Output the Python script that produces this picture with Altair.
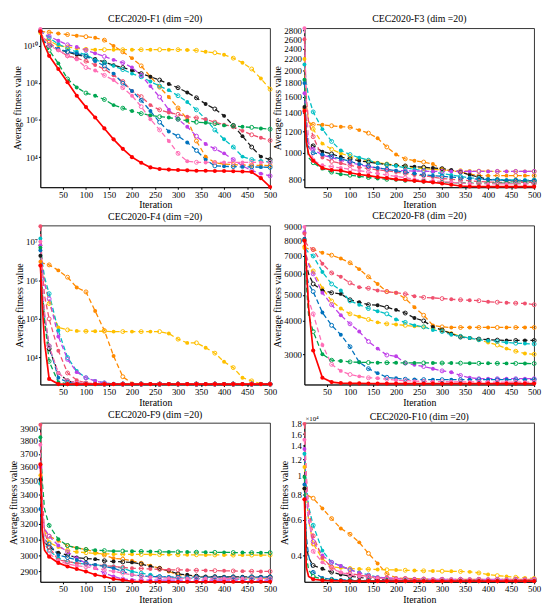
import altair as alt
import pandas as pd

IT = [1, 5, 10, 20, 40, 60, 80, 100, 120, 140, 160, 180, 200, 220, 240, 260,
      280, 300, 320, 340, 360, 380, 400, 420, 440, 460, 480, 500]
MARK_IT = [1, 20, 40, 60, 80, 100, 120, 140, 160, 180, 200, 220, 240, 260,
           280, 300, 320, 340, 360, 380, 400, 420, 440, 460, 480, 500]

SERIES = ["Orange", "Yellow", "Black", "Cyan", "Purple", "Salmon", "Blue", "Green", "Pink", "Red"]
COLORS = ["#FF8A00", "#FFC000", "#1A1A1A", "#00BFC4", "#BF3FE8", "#F0506E", "#0072BD", "#00A651", "#FF6FB7", "#FF0000"]

F1 = {
    "Red": [5.8e10, 2.5e10, 1.0e10, 2.8e9, 5.5e8, 1.07e8, 2.0e7, 4.9e6, 1.35e6, 3.5e5, 9.1e4, 2.8e4, 1.0e4, 5.0e3,
            2.8e3, 2.3e3, 2.15e3, 2.05e3, 1.95e3, 1.85e3, 1.85e3, 1.8e3, 1.8e3, 1.75e3, 1.7e3, 1.6e3, 7.4e2, 2.5e2],
    "Orange": [6.2e10, 5.8e10, 5.5e10, 5.2e10, 4.4e10, 3.9e10, 3.4e10, 3.0e10, 2.6e10, 1.95e10, 9.5e9, 4.6e9, 2.1e9, 8.1e8,
               2.1e8, 5.8e7, 1.7e7, 4.4e6, 1.1e6, 7.4e4, 1.07e4, 5.0e3, 4.2e3, 4.0e3, 3.8e3, 3.7e3, 3.6e3, 3.5e3],
    "Yellow": [4.7e10, 3.2e10, 2.5e10, 1.8e10, 1.0e10, 8.3e9, 7.1e9, 6.3e9, 6.0e9, 6.0e9, 6.0e9, 6.0e9, 6.0e9, 6.0e9,
               6.0e9, 6.0e9, 6.0e9, 6.0e9, 5.8e9, 5.5e9, 4.6e9, 4.1e9, 3.2e9, 2.1e9, 1.2e9, 5.5e8, 1.7e8, 4.5e7],
    "Black": [5.8e10, 2.5e10, 1.6e10, 1.0e10, 6.0e9, 4.6e9, 3.2e9, 2.6e9, 1.9e9, 1.3e9, 8.7e8, 6.6e8, 4.6e8, 3.1e8,
              2.1e8, 1.4e8, 8.5e7, 5.4e7, 3.0e7, 1.55e7, 7.2e6, 3.9e6, 1.66e6, 5.1e5, 1.35e5, 3.5e4, 1.07e4, 7.4e3],
    "Cyan": [6.9e10, 5.0e10, 4.0e10, 2.6e10, 1.2e10, 6.8e9, 4.6e9, 3.2e9, 1.7e9, 1.2e9, 8.1e8, 5.1e8, 3.1e8, 2.1e8,
             1.17e8, 6.6e7, 4.0e7, 2.0e7, 9.3e6, 3.5e6, 1.1e6, 2.9e5, 9.1e4, 3.5e4, 1.07e4, 7.4e3, 6.3e3, 5.4e3],
    "Purple": [6.9e10, 5.0e10, 4.0e10, 3.2e10, 1.8e10, 1.1e10, 8.3e9, 5.6e9, 3.8e9, 2.6e9, 1.7e9, 1.2e9, 6.6e8, 2.5e8,
               6.6e7, 1.7e7, 3.5e6, 1.1e6, 4.3e5, 1.35e5, 5.1e4, 2.8e4, 1.6e4, 7.4e3, 3.4e3, 1.9e3, 1.3e3, 9.8e2],
    "Salmon": [5.8e10, 3.2e10, 2.2e10, 1.5e10, 5.6e9, 2.8e9, 2.1e9, 1.45e9, 9.1e8, 5.5e8, 2.5e8, 1.17e8, 3.6e7, 1.8e7,
               6.3e6, 3.5e6, 2.5e6, 2.0e6, 1.5e6, 1.3e6, 1.1e6, 7.6e5, 5.6e5, 4.3e5, 2.6e5, 1.6e5, 1.1e5, 7.9e4],
    "Pink": [7.9e10, 3.2e10, 2.0e10, 1.0e10, 5.6e9, 2.8e9, 1.8e9, 6.6e8, 4.6e8, 2.5e8, 1.4e8, 5.4e7, 2.0e7, 5.2e6,
             1.1e6, 2.9e5, 7.4e4, 1.6e4, 6.0e3, 5.3e3, 5.2e3, 5.2e3, 5.2e3, 5.2e3, 5.2e3, 5.2e3, 5.2e3, 5.2e3],
    "Blue": [5.8e10, 2.5e10, 1.6e10, 1.0e10, 6.8e9, 4.6e9, 3.8e9, 2.6e9, 1.45e9, 8.1e8, 3.1e8, 9.5e7, 3.6e7, 1.15e7,
             3.0e6, 7.6e5, 2.4e5, 1.35e5, 6.2e4, 2.3e4, 7.4e3, 3.4e3, 3.2e3, 3.1e3, 3.0e3, 3.0e3, 2.9e3, 2.8e3],
    "Green": [5.8e10, 2.0e10, 1.26e10, 5.6e9, 1.1e9, 1.6e8, 5.6e7, 2.8e7, 2.0e7, 1.26e7, 6.3e6, 4.3e6, 3.0e6, 2.2e6,
              1.8e6, 1.5e6, 1.35e6, 1.1e6, 9.1e5, 7.6e5, 7.1e5, 6.3e5, 5.1e5, 4.8e5, 4.3e5, 4.0e5, 3.5e5, 3.2e5],
}

F3 = {
    "Red": [1420, 1100, 990, 935, 880, 865, 860, 845, 833, 825, 815, 808, 800, 795,
            790, 785, 780, 772, 764, 756, 753, 752, 752, 752, 752, 752, 752, 752],
    "Orange": [1450, 1320, 1290, 1270, 1265, 1255, 1245, 1240, 1210, 1180, 1130, 1050, 985, 950,
               935, 925, 910, 870, 860, 850, 835, 825, 825, 825, 825, 825, 825, 825],
    "Yellow": [2200, 1500, 1300, 1220, 1080, 1030, 995, 970, 950, 935, 920, 910, 900, 890,
               880, 875, 870, 865, 860, 860, 858, 857, 856, 855, 855, 855, 855, 855],
    "Black": [1470, 1150, 1090, 1060, 1010, 990, 965, 950, 935, 925, 915, 905, 900, 895,
              890, 885, 880, 875, 865, 850, 830, 815, 800, 795, 790, 790, 790, 790],
    "Cyan": [2100, 1800, 1600, 1410, 1220, 1100, 1020, 985, 960, 940, 915, 905, 895, 880,
             870, 860, 850, 840, 830, 820, 810, 805, 800, 798, 796, 795, 795, 795],
    "Purple": [1650, 1200, 1080, 1030, 980, 960, 940, 920, 905, 890, 880, 870, 860, 860,
               857, 856, 855, 855, 855, 855, 855, 855, 855, 855, 855, 855, 855, 855],
    "Salmon": [2600, 1600, 1300, 1145, 960, 930, 915, 900, 885, 875, 865, 860, 850, 840,
               830, 825, 815, 805, 800, 795, 790, 785, 782, 780, 780, 780, 780, 780],
    "Pink": [2850, 1500, 1100, 940, 900, 890, 880, 870, 860, 850, 840, 830, 820, 810,
             800, 795, 790, 785, 780, 775, 772, 770, 770, 770, 770, 770, 770, 770],
    "Blue": [1800, 1200, 1050, 1000, 985, 970, 950, 930, 910, 895, 880, 870, 860, 850,
             840, 830, 825, 820, 815, 810, 805, 800, 797, 795, 793, 792, 791, 790],
    "Green": [1850, 1100, 960, 920, 875, 850, 835, 828, 820, 812, 805, 800, 797, 793,
              790, 787, 783, 780, 778, 776, 775, 775, 775, 775, 775, 775, 775, 775],
}

F4 = {
    "Red": [2.4e6, 2.4e5, 2.5e4, 2.8e3, 2.06e3, 2.05e3, 2.05e3, 2.05e3, 2.05e3, 2.05e3, 2.05e3, 2.05e3, 2.05e3, 2.05e3,
            2.05e3, 2.05e3, 2.05e3, 2.05e3, 2.05e3, 2.05e3, 2.05e3, 2.05e3, 2.05e3, 2.05e3, 2.05e3, 2.05e3, 2.05e3, 2.05e3],
    "Orange": [3.0e6, 2.8e6, 2.7e6, 2.5e6, 1.8e6, 1.2e6, 6.5e5, 5.0e5, 1.6e5, 5.0e4, 1.1e4, 3.2e3, 2.15e3, 2.1e3,
               2.08e3, 2.07e3, 2.07e3, 2.07e3, 2.07e3, 2.07e3, 2.07e3, 2.07e3, 2.07e3, 2.07e3, 2.07e3, 2.07e3, 2.07e3, 2.07e3],
    "Yellow": [8.0e6, 2.5e6, 1.0e6, 2.5e5, 6.0e4, 5.2e4, 4.9e4, 4.8e4, 4.8e4, 4.8e4, 4.7e4, 4.7e4, 4.7e4, 4.7e4,
               4.7e4, 4.7e4, 4.2e4, 3.0e4, 2.4e4, 2.4e4, 1.8e4, 1.3e4, 7.8e3, 5.5e3, 3.0e3, 2.5e3, 2.1e3, 2.05e3],
    "Black": [4.3e6, 4.0e5, 8.0e4, 1.7e4, 4.0e3, 2.5e3, 2.2e3, 2.1e3, 2.07e3, 2.06e3, 2.06e3, 2.06e3, 2.06e3, 2.06e3,
              2.06e3, 2.06e3, 2.06e3, 2.06e3, 2.06e3, 2.06e3, 2.06e3, 2.06e3, 2.06e3, 2.06e3, 2.06e3, 2.06e3, 2.06e3, 2.06e3],
    "Cyan": [1.2e7, 3.0e6, 1.2e6, 4.5e5, 5.0e4, 1.0e4, 4.5e3, 3.0e3, 2.5e3, 2.2e3, 2.1e3, 2.07e3, 2.06e3, 2.06e3,
             2.06e3, 2.06e3, 2.06e3, 2.06e3, 2.06e3, 2.06e3, 2.06e3, 2.06e3, 2.06e3, 2.06e3, 2.06e3, 2.06e3, 2.06e3, 2.06e3],
    "Purple": [8.0e6, 2.0e6, 8.0e5, 3.3e5, 3.5e4, 9.0e3, 4.2e3, 3.0e3, 2.5e3, 2.2e3, 2.1e3, 2.07e3, 2.06e3, 2.06e3,
               2.06e3, 2.06e3, 2.06e3, 2.06e3, 2.06e3, 2.06e3, 2.06e3, 2.06e3, 2.06e3, 2.06e3, 2.06e3, 2.06e3, 2.06e3, 2.06e3],
    "Salmon": [2.5e7, 2.0e6, 4.0e5, 1.0e5, 1.5e4, 4.0e3, 2.6e3, 2.2e3, 2.1e3, 2.07e3, 2.06e3, 2.06e3, 2.06e3, 2.06e3,
               2.06e3, 2.06e3, 2.06e3, 2.06e3, 2.06e3, 2.06e3, 2.06e3, 2.06e3, 2.06e3, 2.06e3, 2.06e3, 2.06e3, 2.06e3, 2.06e3],
    "Pink": [1.0e7, 1.0e6, 1.5e5, 2.0e4, 4.0e3, 2.5e3, 2.2e3, 2.1e3, 2.07e3, 2.06e3, 2.06e3, 2.06e3, 2.06e3, 2.06e3,
             2.06e3, 2.06e3, 2.06e3, 2.06e3, 2.06e3, 2.06e3, 2.06e3, 2.06e3, 2.06e3, 2.06e3, 2.06e3, 2.06e3, 2.06e3, 2.06e3],
    "Blue": [6.0e6, 6.0e5, 1.2e5, 2.0e4, 3.0e3, 2.3e3, 2.15e3, 2.1e3, 2.07e3, 2.06e3, 2.06e3, 2.06e3, 2.06e3, 2.06e3,
             2.06e3, 2.06e3, 2.06e3, 2.06e3, 2.06e3, 2.06e3, 2.06e3, 2.06e3, 2.06e3, 2.06e3, 2.06e3, 2.06e3, 2.06e3, 2.06e3],
    "Green": [7.0e6, 5.0e5, 1.0e5, 8.0e3, 2.3e3, 2.1e3, 2.07e3, 2.06e3, 2.06e3, 2.06e3, 2.06e3, 2.06e3, 2.06e3, 2.06e3,
              2.06e3, 2.06e3, 2.06e3, 2.06e3, 2.06e3, 2.06e3, 2.06e3, 2.06e3, 2.06e3, 2.06e3, 2.06e3, 2.06e3, 2.06e3, 2.06e3],
}

F8 = {
    "Red": [8000, 6500, 4500, 3100, 2450, 2360, 2340, 2335, 2333, 2332, 2331, 2330, 2330, 2330,
            2330, 2330, 2330, 2330, 2330, 2330, 2330, 2330, 2330, 2330, 2330, 2330, 2330, 2330],
    "Orange": [7600, 7500, 7450, 7400, 7200, 7050, 6850, 6600, 6250, 5850, 5500, 5150, 5100, 4850,
               4500, 4200, 3850, 3800, 3780, 3780, 3780, 3780, 3780, 3780, 3780, 3780, 3780, 3780],
    "Salmon": [8500, 7800, 7600, 7400, 6550, 6050, 5850, 5550, 5350, 5300, 5200, 5150, 5100, 5050,
               4950, 4900, 4880, 4850, 4820, 4800, 4780, 4760, 4720, 4700, 4680, 4660, 4650, 4600],
    "Black": [8100, 6500, 6000, 5500, 5200, 5100, 5050, 4800, 4700, 4600, 4580, 4500, 4400, 4280,
              4100, 4000, 3800, 3700, 3580, 3480, 3450, 3420, 3400, 3390, 3380, 3380, 3380, 3380],
    "Cyan": [8000, 7400, 7200, 7000, 6100, 5500, 5200, 4750, 4600, 4450, 4350, 4250, 4050, 3950,
             3850, 3800, 3700, 3650, 3550, 3500, 3450, 3400, 3370, 3350, 3320, 3300, 3290, 3280],
    "Yellow": [7500, 7000, 6600, 6150, 5300, 4750, 4450, 4250, 4150, 4050, 3950, 3900, 3880, 3850,
               3820, 3800, 3750, 3700, 3600, 3500, 3450, 3400, 3320, 3250, 3150, 3080, 3020, 3000],
    "Purple": [8600, 7000, 6500, 6000, 5100, 4600, 4200, 3900, 3650, 3350, 3150, 2980, 2950, 2780,
               2740, 2700, 2650, 2600, 2570, 2500, 2450, 2430, 2430, 2430, 2430, 2430, 2430, 2430],
    "Blue": [8100, 6000, 5500, 5150, 4300, 3850, 3550, 3200, 2800, 2650, 2550, 2460, 2440, 2420,
             2415, 2412, 2410, 2410, 2410, 2410, 2410, 2410, 2410, 2410, 2410, 2410, 2410, 2410],
    "Green": [8000, 5500, 4200, 3650, 3000, 2850, 2830, 2810, 2800, 2795, 2790, 2790, 2788, 2786,
              2785, 2784, 2783, 2782, 2781, 2780, 2778, 2776, 2775, 2774, 2773, 2772, 2771, 2770],
    "Pink": [9000, 6000, 4800, 4250, 3250, 2750, 2600, 2520, 2480, 2450, 2440, 2420, 2400, 2390,
             2380, 2375, 2370, 2368, 2366, 2365, 2364, 2363, 2362, 2361, 2360, 2360, 2360, 2360],
}

F9 = {
    "Red": [3620, 3150, 3030, 2990, 2952, 2930, 2915, 2900, 2880, 2870, 2855, 2848, 2842, 2840,
            2839, 2839, 2839, 2839, 2839, 2839, 2839, 2839, 2839, 2839, 2839, 2839, 2839, 2839],
    "Green": [3830, 3500, 3300, 3190, 3100, 3060, 3045, 3035, 3030, 3028, 3025, 3025, 3024, 3023,
              3022, 3021, 3020, 3020, 3019, 3018, 3018, 3017, 3017, 3016, 3016, 3015, 3015, 3015],
    "Yellow": [3540, 3250, 3150, 3080, 3050, 3030, 3020, 3015, 3010, 3008, 3006, 3005, 3005, 3004,
               3004, 3003, 3003, 3002, 3002, 3002, 3001, 3001, 3001, 3000, 3000, 3000, 3000, 3000],
    "Orange": [3480, 3250, 3160, 3120, 3090, 3060, 3045, 3035, 3020, 3000, 2980, 2975, 2965, 2950,
               2935, 2920, 2900, 2880, 2875, 2870, 2868, 2866, 2865, 2864, 2863, 2862, 2861, 2860],
    "Black": [3510, 3150, 3080, 3050, 3015, 3000, 2985, 2978, 2975, 2965, 2960, 2958, 2955, 2945,
              2930, 2918, 2905, 2885, 2880, 2872, 2870, 2869, 2868, 2868, 2868, 2868, 2868, 2868],
    "Purple": [3600, 3250, 3170, 3120, 3060, 3020, 2980, 2950, 2920, 2890, 2870, 2855, 2850, 2849,
               2848, 2848, 2848, 2848, 2848, 2848, 2848, 2848, 2848, 2848, 2848, 2848, 2848, 2848],
    "Cyan": [3480, 3150, 3070, 3030, 2980, 2960, 2950, 2945, 2940, 2935, 2930, 2920, 2900, 2890,
             2880, 2870, 2865, 2862, 2860, 2858, 2857, 2856, 2856, 2855, 2855, 2855, 2855, 2855],
    "Blue": [3300, 3150, 3100, 3070, 3000, 2985, 2970, 2950, 2940, 2930, 2920, 2900, 2880, 2875,
             2870, 2868, 2867, 2866, 2866, 2866, 2866, 2866, 2866, 2866, 2866, 2866, 2866, 2866],
    "Salmon": [3930, 3400, 3150, 3050, 2970, 2960, 2950, 2945, 2940, 2935, 2930, 2925, 2920, 2918,
               2915, 2912, 2910, 2910, 2908, 2907, 2906, 2905, 2904, 2903, 2902, 2901, 2900, 2900],
    "Pink": [3770, 3300, 3100, 3010, 2965, 2945, 2935, 2928, 2920, 2910, 2900, 2890, 2880, 2872,
             2866, 2862, 2860, 2859, 2858, 2858, 2858, 2858, 2858, 2858, 2858, 2858, 2858, 2858],
}

F10 = {
    "Red": [7600, 3500, 3150, 3050, 3010, 3000, 2995, 2990, 2988, 2987, 2986, 2985, 2985, 2985,
            2985, 2985, 2985, 2985, 2985, 2985, 2985, 2985, 2985, 2985, 2985, 2985, 2985, 2985],
    "Black": [8600, 4500, 3900, 3570, 3440, 3310, 3220, 3160, 3120, 3080, 3050, 3040, 3030, 3020,
              3015, 3010, 3005, 3000, 3000, 3000, 3000, 3000, 3000, 3000, 3000, 3000, 3000, 3000],
    "Green": [9800, 4000, 3400, 3150, 3050, 3020, 3010, 3005, 3000, 3000, 3000, 3000, 3000, 3000,
              3000, 3000, 3000, 3000, 3000, 3000, 3000, 3000, 3000, 3000, 3000, 3000, 3000, 3000],
    "Blue": [9000, 5000, 4000, 3300, 3100, 3050, 3030, 3020, 3010, 3005, 3000, 3000, 3000, 3000,
             3000, 3000, 3000, 3000, 3000, 3000, 3000, 3000, 3000, 3000, 3000, 3000, 3000, 3000],
    "Orange": [8600, 8100, 7900, 7700, 6850, 6100, 5450, 5100, 4650, 4100, 3650, 3250, 3100, 3080,
               3070, 3060, 3055, 3050, 3050, 3050, 3050, 3050, 3050, 3050, 3050, 3050, 3050, 3050],
    "Yellow": [11000, 8000, 6000, 4570, 3860, 3510, 3480, 3450, 3430, 3420, 3410, 3400, 3390, 3380,
               3370, 3360, 3350, 3345, 3340, 3335, 3320, 3280, 3220, 3180, 3150, 3120, 3100, 3080],
    "Cyan": [12800, 9000, 7000, 5650, 4230, 3700, 3550, 3400, 3300, 3200, 3120, 3080, 3060, 3050,
             3040, 3035, 3030, 3025, 3020, 3020, 3020, 3020, 3020, 3020, 3020, 3020, 3020, 3020],
    "Purple": [13500, 8000, 6000, 4700, 4000, 3700, 3550, 3400, 3280, 3180, 3120, 3100, 3080, 3070,
               3060, 3055, 3050, 3050, 3050, 3050, 3050, 3050, 3050, 3050, 3050, 3050, 3050, 3050],
    "Salmon": [18000, 10000, 7000, 5000, 3900, 3500, 3300, 3250, 3200, 3150, 3100, 3080, 3060, 3050,
               3040, 3035, 3030, 3030, 3030, 3030, 3030, 3030, 3030, 3030, 3030, 3030, 3030, 3030],
    "Pink": [15000, 9500, 6500, 4200, 3700, 3450, 3300, 3200, 3150, 3100, 3080, 3060, 3050, 3040,
             3030, 3025, 3020, 3020, 3020, 3020, 3020, 3020, 3020, 3020, 3020, 3020, 3020, 3020],
}

X_TICKS = [50, 100, 150, 200, 250, 300, 350, 400, 450, 500]
SUP = "'10' + ['⁰','¹','²','³','⁴','⁵','⁶','⁷','⁸','⁹','¹⁰'][round(log(datum.value)/LN10)]"

PANELS = [
    ("CEC2020-F1 (dim =20)", F1, [240, 8.5e10], [1e4, 1e6, 1e8, 1e10], SUP, False),
    ("CEC2020-F3 (dim =20)", F3, [748, 2850], [800, 1000, 1200, 1400, 1600, 1800, 2000, 2200, 2400, 2600, 2800],
     "format(datum.value, 'd')", False),
    ("CEC2020-F4 (dim =20)", F4, [2000, 2.6e7], [1e4, 1e5, 1e6, 1e7], SUP, False),
    ("CEC2020-F8 (dim =20)", F8, [2310, 9100], [3000, 4000, 5000, 6000, 7000, 8000, 9000],
     "format(datum.value, 'd')", False),
    ("CEC2020-F9 (dim =20)", F9, [2838, 3945], [2900, 3000, 3100, 3200, 3300, 3400, 3500, 3600, 3700, 3800, 3900],
     "format(datum.value, 'd')", False),
    ("CEC2020-F10 (dim =20)", F10, [2960, 18200], [4000, 6000, 8000, 10000, 12000, 14000, 16000, 18000],
     "format(datum.value/10000, '~g')", True),
]

FONT = "Liberation Serif"


def build_df(data):
    rows = []
    for s in SERIES:
        vals = data[s]
        for it, v in zip(IT, vals):
            mk = "none"
            if it in MARK_IT:
                k = MARK_IT.index(it)
                mk = "f" if (s == "Red" or k % 2 == 0) else "o"
            rows.append({"series": s, "iter": it, "value": v, "mk": mk})
    return pd.DataFrame(rows)


def make_panel(title, data, domain, ticks, label_expr, sci):
    df = build_df(data)
    color = alt.Color("series:N", scale=alt.Scale(domain=SERIES, range=COLORS), legend=None)
    x = alt.X("iter:Q", scale=alt.Scale(domain=[1, 500], nice=False, zero=False),
              axis=alt.Axis(values=X_TICKS, title="Iteration", labelFlush=False,
                            labelOverlap=False, labelBound=False))
    y = alt.Y("value:Q", scale=alt.Scale(type="log", domain=domain, nice=False),
              axis=alt.Axis(values=ticks, labelExpr=label_expr, title="Average fitness value",
                            labelOverlap=False, labelFlush=False, labelBound=False))
    base = alt.Chart(df).encode(x=x, y=y, color=color)
    others = base.transform_filter("datum.series != 'Red'")
    red = base.transform_filter("datum.series == 'Red'")
    layers = [
        others.mark_line(strokeDash=[5, 3], strokeWidth=1.3),
        others.transform_filter("datum.mk == 'f'").mark_point(filled=True, size=16, opacity=1),
        others.transform_filter("datum.mk == 'o'").mark_point(filled=False, size=16, strokeWidth=1, opacity=1),
        red.mark_line(strokeWidth=1.7),
        red.transform_filter("datum.mk == 'f'").mark_point(filled=True, size=18, opacity=1),
    ]
    offset = 2
    if sci:
        layers.append(
            alt.Chart(pd.DataFrame({"t": ["×10⁴"]})).mark_text(
                align="left", baseline="bottom", fontSize=7, font=FONT, color="black"
            ).encode(text="t:N", x=alt.value(1), y=alt.value(-1))
        )
        offset = -7
    return alt.layer(*layers).properties(
        width=234, height=162,
        title=alt.TitleParams(title, fontSize=10, font=FONT, fontWeight="normal", offset=offset, color="black"),
    )


charts = [make_panel(*p) for p in PANELS]

chart = alt.concat(*charts, columns=2, bounds="flush",
                   spacing={"row": 39, "column": 35}).properties(
    padding={"left": 0, "top": 0, "right": 0, "bottom": 0},
    background="white",
).configure_view(
    stroke="black", strokeWidth=0.8
).configure_axis(
    grid=False, domainColor="black", tickColor="black", labelColor="black", titleColor="black",
    labelFont=FONT, titleFont=FONT, labelFontSize=9, titleFontSize=10, titleFontWeight="normal",
    tickSize=2, labelPadding=1, titlePadding=1, domainWidth=0.8
)

chart.save("out.html", embed_options={"renderer": "svg", "actions": False})
